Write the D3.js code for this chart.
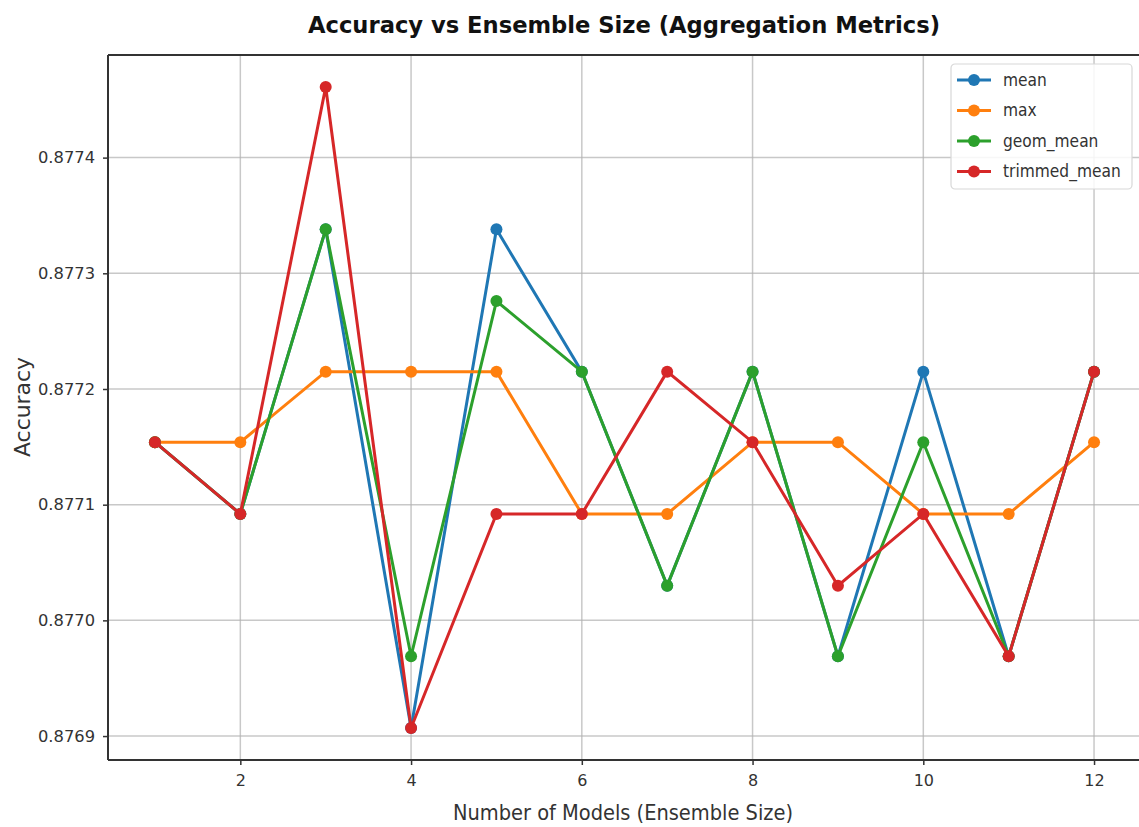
<!DOCTYPE html>
<html lang="en">
<head>
    <meta charset="UTF-8">
    <title>Accuracy vs Ensemble Size (Aggregation Metrics)</title>
    <script src="https://d3js.org/d3.v7.min.js"></script>
    <style>
        body { margin: 0; background: #fff; font-family: "DejaVu Sans", sans-serif; }
        .grid line { stroke: #b0b0b0; stroke-opacity: 0.7; stroke-width: 1.5; }
        .line { fill: none; stroke-width: 3; }
    </style>
</head>
<body>
    <div id="chart"></div>
    <script>
        const sizes = [1, 2, 3, 4, 5, 6, 7, 8, 9, 10, 11, 12];
        const meanAcc    = [0.877154, 0.877092, 0.877338, 0.876907, 0.877338, 0.877215, 0.877030, 0.877215, 0.876969, 0.877215, 0.876969, 0.877215];
        const maxAcc     = [0.877154, 0.877154, 0.877215, 0.877215, 0.877215, 0.877092, 0.877092, 0.877154, 0.877154, 0.877092, 0.877092, 0.877154];
        const geomAcc    = [0.877154, 0.877092, 0.877338, 0.876969, 0.877276, 0.877215, 0.877030, 0.877215, 0.876969, 0.877154, 0.876969, 0.877215];
        const trimmedAcc = [0.877154, 0.877092, 0.877461, 0.876907, 0.877092, 0.877092, 0.877215, 0.877154, 0.877030, 0.877092, 0.876969, 0.877215];
        const yTicks = [0.8769, 0.8770, 0.8771, 0.8772, 0.8773, 0.8774];
        const xTicks = [2, 4, 6, 8, 10, 12];

        const series = [
            { name: "mean", values: meanAcc, color: "#1f77b4" },
            { name: "max", values: maxAcc, color: "#ff7f0e" },
            { name: "geom_mean", values: geomAcc, color: "#2ca02c" },
            { name: "trimmed_mean", values: trimmedAcc, color: "#d62728" }
        ];

        const W = 1139, H = 827;
        const margin = { top: 55, right: -2, bottom: 67, left: 108 };
        const width = W - margin.left - margin.right;
        const height = H - margin.top - margin.bottom;

        const svg = d3.select("#chart").append("svg")
            .attr("width", W).attr("height", H);
        const g = svg.append("g")
            .attr("transform", `translate(${margin.left},${margin.top})`);

        // matplotlib-style 5% padding
        const xPad = (12 - 1) * 0.05;
        const x = d3.scaleLinear().domain([1 - xPad, 12 + xPad]).range([0, width]);
        const all = series.flatMap(s => s.values);
        const [ymin, ymax] = d3.extent(all);
        const yPad = (ymax - ymin) * 0.05;
        const y = d3.scaleLinear().domain([ymin - yPad, ymax + yPad]).range([height, 0]);

        // grid
        g.append("g").attr("class", "grid")
            .selectAll("line.v").data(xTicks).enter().append("line")
            .attr("x1", d => x(d)).attr("x2", d => x(d))
            .attr("y1", 0).attr("y2", height);
        g.append("g").attr("class", "grid")
            .selectAll("line.h").data(yTicks).enter().append("line")
            .attr("x1", 0).attr("x2", width)
            .attr("y1", d => y(d)).attr("y2", d => y(d));

        // axes
        const xAxis = g.append("g")
            .attr("transform", `translate(0,${height})`)
            .call(d3.axisBottom(x).tickValues(xTicks).tickSize(5).tickPadding(10).tickFormat(d3.format("d")));
        const yAxis = g.append("g")
            .call(d3.axisLeft(y).tickValues(yTicks).tickSize(5).tickPadding(8).tickFormat(d3.format(".4f")));
        [xAxis, yAxis].forEach(a => {
            a.select(".domain").remove();
            a.selectAll(".tick line").attr("stroke", "#333").attr("stroke-width", 1.5);
            a.selectAll(".tick text").attr("fill", "#333")
                .style("font-family", "DejaVu Sans, sans-serif").style("font-size", "16px");
        });
        yAxis.selectAll(".tick text")
            .attr("textLength", 57).attr("lengthAdjust", "spacingAndGlyphs");

        // spines
        g.append("line").attr("x1", 0).attr("x2", 0).attr("y1", 0).attr("y2", height)
            .attr("stroke", "#333").attr("stroke-width", 2);
        g.append("line").attr("x1", 0).attr("x2", width).attr("y1", height).attr("y2", height)
            .attr("stroke", "#333").attr("stroke-width", 2);
        g.append("line").attr("x1", 0).attr("x2", width).attr("y1", 0).attr("y2", 0)
            .attr("stroke", "#333").attr("stroke-width", 2);

        const line = d3.line()
            .x((d, i) => x(sizes[i]))
            .y(d => y(d));

        series.forEach(s => {
            g.append("path")
                .datum(s.values)
                .attr("class", "line")
                .attr("stroke", s.color)
                .attr("d", line);
            g.selectAll(null)
                .data(s.values)
                .enter().append("circle")
                .attr("cx", (d, i) => x(sizes[i]))
                .attr("cy", d => y(d))
                .attr("r", 6)
                .attr("fill", s.color);
        });

        // legend
        const legend = svg.append("g").attr("transform", "translate(951,64)");
        legend.append("rect")
            .attr("width", 181).attr("height", 125).attr("rx", 4)
            .attr("fill", "#fff").attr("fill-opacity", 0.85)
            .attr("stroke", "#d8d8d8").attr("stroke-width", 1.2);
        series.forEach((s, i) => {
            const ly = 16 + i * 30.5;
            legend.append("line").attr("x1", 6).attr("x2", 40).attr("y1", ly).attr("y2", ly)
                .attr("stroke", s.color).attr("stroke-width", 3);
            legend.append("circle").attr("cx", 23).attr("cy", ly).attr("r", 6).attr("fill", s.color);
            legend.append("text").attr("x", 52).attr("y", ly + 6)
                .attr("fill", "#333")
                .style("font-size", "18px")
                .attr("transform", `translate(52,0) scale(0.86,1) translate(-52,0)`)
                .text(s.name);
        });

        // title and labels
        svg.append("text")
            .attr("x", 624).attr("y", 33)
            .attr("text-anchor", "middle")
            .style("font-weight", "bold").style("font-size", "23px")
            .attr("fill", "#111")
            .attr("textLength", 632).attr("lengthAdjust", "spacingAndGlyphs")
            .text("Accuracy vs Ensemble Size (Aggregation Metrics)");

        svg.append("text")
            .attr("x", 623).attr("y", 820)
            .attr("text-anchor", "middle")
            .style("font-size", "21px").attr("fill", "#333")
            .attr("textLength", 340).attr("lengthAdjust", "spacingAndGlyphs")
            .text("Number of Models (Ensemble Size)");

        svg.append("text")
            .attr("transform", "translate(30,407) rotate(-90)")
            .attr("text-anchor", "middle")
            .style("font-size", "21px").attr("fill", "#333")
            .attr("textLength", 100).attr("lengthAdjust", "spacingAndGlyphs")
            .text("Accuracy");
    </script>
</body>
</html>
